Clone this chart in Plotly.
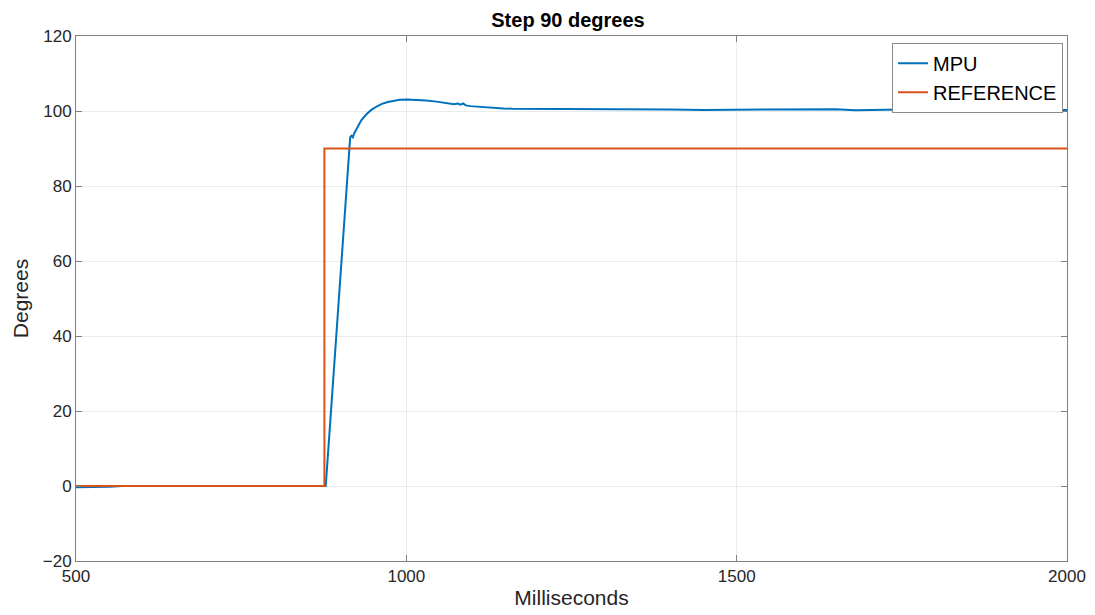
import plotly.graph_objects as go

# MPU measured angle (ms, degrees)
mpu_t = [500, 520, 550, 570, 600, 650, 700, 750, 800, 850, 870, 878, 885, 895, 905, 909, 913, 915,
         917, 919, 921, 926, 932, 940, 947, 955, 963, 972, 981, 990, 1001, 1015, 1030, 1046, 1060,
         1072, 1078, 1082, 1086, 1090, 1097, 1110, 1122, 1135, 1147, 1160, 1172, 1200, 1250, 1300,
         1350, 1400, 1450, 1500, 1550, 1600, 1650, 1680, 1700, 1750, 1800, 1850, 1900, 1950, 1975,
         1982, 1990, 2000]
mpu_v = [-0.3, -0.3, -0.2, 0.0, 0.0, 0.1, 0.0, 0.1, 0.0, 0.0, 0.0, 0.0, 17.5, 42.5, 67.5, 78.0, 88.0, 93.0,
         93.4, 93.0, 94.0, 95.8, 97.6, 99.2, 100.3, 101.2, 101.9, 102.4, 102.7, 103.0, 103.1, 103.0, 102.8, 102.5, 102.1,
         101.8, 102.0, 101.7, 102.0, 101.5, 101.3, 101.1, 101.0, 100.8, 100.7, 100.6, 100.6, 100.5, 100.5, 100.5,
         100.4, 100.4, 100.3, 100.3, 100.3, 100.4, 100.5, 100.2, 100.3, 100.4, 100.5, 100.4, 100.4, 100.5, 100.4,
         100.0, 100.3, 100.3]

# Reference step (ms, degrees)
ref_t = [500, 876, 876, 2000]
ref_v = [0, 0, 90, 90]

x_ticks = [500, 1000, 1500, 2000]
y_ticks = [-20, 0, 20, 40, 60, 80, 100, 120]

FONT = "Liberation Sans, Arial, Helvetica, sans-serif"
AX = "#808080"
GRID = "#ebebeb"

W, H = 1095, 615
OFF = 8  # page body margin
L, R, T, B = 70 - OFF, W - 1067 + OFF, 36 - OFF, H - 561 + OFF

fig = go.Figure()
fig.add_trace(go.Scatter(x=mpu_t, y=mpu_v, mode="lines", name="MPU",
                         line=dict(color="#0072BD", width=2)))
fig.add_trace(go.Scatter(x=ref_t, y=ref_v, mode="lines", name="REFERENCE",
                         line=dict(color="#D95319", width=2)))

axis_common = dict(showline=True, linecolor=AX, linewidth=1, mirror="ticks",
                   ticks="inside", ticklen=6, tickcolor=AX, showgrid=True,
                   gridcolor=GRID, gridwidth=1, zeroline=False,
                   tickfont=dict(family=FONT, size=17, color="#262626"))

fig.update_layout(
    width=W, height=H,
    paper_bgcolor="white", plot_bgcolor="white",
    margin=dict(l=L, r=R, t=T, b=B),
    title=dict(text="<b>Step 90 degrees</b>", x=(568 - OFF) / W, xanchor="center",
               y=1, yanchor="top", pad=dict(t=5),
               font=dict(family=FONT, size=20, color="#000000")),
    xaxis=dict(range=[500, 2000], tickvals=x_ticks,
               title=dict(text="Milliseconds", font=dict(family=FONT, size=21, color="#262626"),
                          standoff=4),
               **axis_common),
    yaxis=dict(range=[-20, 120], tickvals=y_ticks,
               title=dict(text="Degrees", font=dict(family=FONT, size=21, color="#262626"),
                          standoff=8),
               **axis_common),
    legend=dict(x=0.996, y=0.987, xanchor="right", yanchor="top",
                bgcolor="white", bordercolor="#8a8a8a", borderwidth=1,
                font=dict(family=FONT, size=20, color="#000000"),
                tracegroupgap=0, itemwidth=30),
    showlegend=True,
)

fig.write_html("out.html")
